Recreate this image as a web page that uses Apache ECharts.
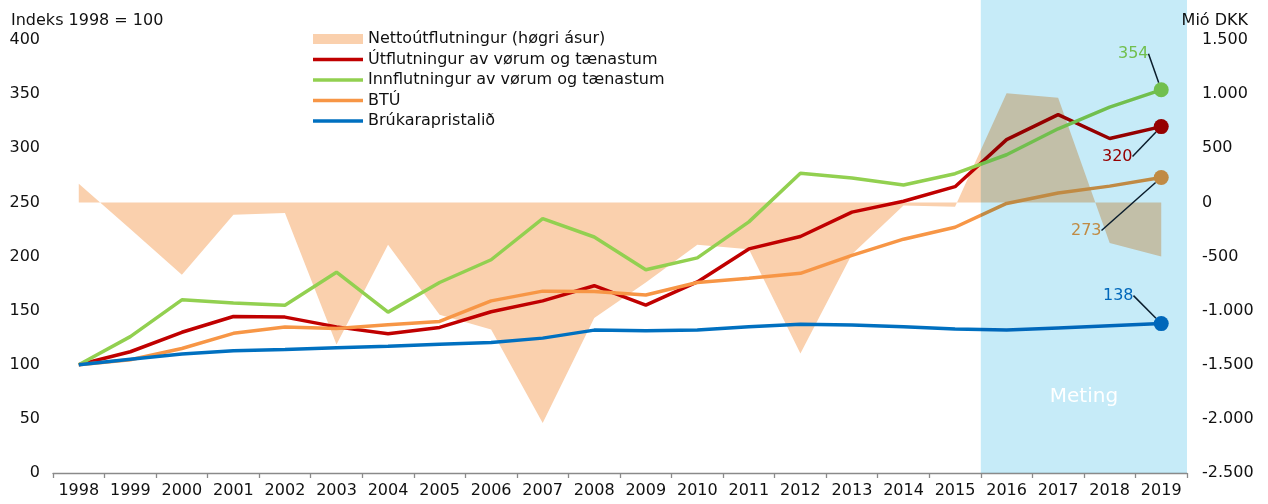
<!DOCTYPE html>
<html>
<head>
<meta charset="utf-8">
<script src="https://cdn.jsdelivr.net/npm/echarts@6/dist/echarts.min.js"></script>
<style>
  html, body { margin: 0; padding: 0; background: #fff; }
  #main { width: 1268px; height: 504px; }
</style>
</head>
<body>
<div id="main"></div>
<script>
// data
var years = ['1998','1999','2000','2001','2002','2003','2004','2005','2006','2007','2008',
             '2009','2010','2011','2012','2013','2014','2015','2016','2017','2018','2019'];
var netto = [172, -245, -668, -114, -98, -1314, -391, -1037, -1175, -2037, -1068,
             -740, -392, -432, -1395, -480, -30, -40, 1009, 966, -375, -500];
var utflutningur = [100, 112, 130, 144.6, 144, 135, 128.6, 134.5, 149, 159, 173,
                    155, 176.5, 207, 218.5, 241, 251, 264.5, 308, 331, 309, 320];
var innflutningur = [100, 126, 160, 157, 155, 185.5, 148.6, 176, 197, 235, 218,
                     187.7, 198.7, 232, 277, 272.5, 266, 276.5, 294, 318, 338, 354];
var btu = [100, 104.6, 115, 129, 134.8, 133.5, 137, 140, 159, 168, 167.7,
           164.5, 176, 180, 184.5, 201, 216, 227, 249, 258.6, 265, 273];
var brukarapristalid = [100, 105, 110, 113, 114, 115.7, 117, 119, 120.6, 124.6, 132,
                        131.5, 132, 135, 137.5, 136.7, 135, 133, 132, 134, 136, 138];
var leftTicks = [0, 400, 50];
var rightTicks = [-2500, 1500, 500];
var forecastFrom = '2016';

var FONT = 'DejaVu Sans';
var LINE_ICON = 'path://M0 0H50V3.6H0Z';
var myChart = echarts.init(document.getElementById('main'));

// the last point gets a dot and a label pulled off to the side
function withEndLabel(values, color) {
    return values.map(function (v, i) {
        if (i < values.length - 1) return v;
        return {
            value: v,
            symbol: 'circle',
            symbolSize: 15,
            itemStyle: { color: color },
            label: {
                show: true,
                position: 'inside',
                formatter: function (p) { return Math.round(p.value); },
                color: color,
                fontFamily: FONT,
                fontSize: 16
            }
        };
    });
}

function lineSeries(name, values, color, dx, dy) {
    return {
        name: name,
        type: 'line',
        yAxisIndex: 0,
        data: withEndLabel(values, color),
        symbol: 'none',
        color: color,
        lineStyle: { width: 3.5, color: color },
        labelLine: { show: true, lineStyle: { color: '#0d1f2d', width: 1.5 } },
        labelLayout: { dx: dx, dy: dy },
        silent: true,
        z: 3
    };
}

function thousands(v) {
    var s = Math.abs(v).toString().replace(/\B(?=(\d{3})+(?!\d))/g, '.');
    return (v < 0 ? '-' : '') + s;
}

var option = {
    animation: false,
    backgroundColor: '#fff',
    textStyle: { fontFamily: FONT },
    title: [
        { text: 'Indeks 1998 = 100', left: 6, top: 8,
          textStyle: { fontFamily: FONT, fontSize: 16, fontWeight: 'normal', color: '#111' } },
        { text: 'Mió DKK', right: 15, top: 8,
          textStyle: { fontFamily: FONT, fontSize: 16, fontWeight: 'normal', color: '#111' } }
    ],
    legend: {
        orient: 'vertical',
        left: 308,
        top: 26,
        itemWidth: 50,
        itemHeight: 10,
        itemGap: 4.5,
        textStyle: { fontFamily: FONT, fontSize: 16, color: '#111', lineHeight: 16 },
        data: [
            { name: 'Nettoútflutningur (høgri ásur)', icon: 'rect', itemStyle: { color: '#fad0ad' } },
            { name: 'Útflutningur av vørum og tænastum', icon: LINE_ICON },
            { name: 'Innflutningur av vørum og tænastum', icon: LINE_ICON },
            { name: 'BTÚ', icon: LINE_ICON },
            { name: 'Brúkarapristalið', icon: LINE_ICON }
        ]
    },
    grid: { left: 53, right: 81, top: 40, bottom: 31 },
    xAxis: {
        type: 'category',
        data: years,
        boundaryGap: true,
        axisLine: { lineStyle: { color: '#8a8a8a', width: 1.3 } },
        axisTick: { show: true, interval: 0, length: 5, lineStyle: { color: '#8a8a8a', width: 1.3 } },
        axisLabel: { interval: 0, margin: 10, fontFamily: FONT, fontSize: 16, color: '#111' }
    },
    yAxis: [
        {
            type: 'value',
            min: leftTicks[0], max: leftTicks[1], interval: leftTicks[2],
            axisLine: { show: false },
            axisTick: { show: false },
            splitLine: { show: false },
            axisLabel: { margin: 13, fontFamily: FONT, fontSize: 16, color: '#111' }
        },
        {
            type: 'value',
            position: 'right',
            min: rightTicks[0], max: rightTicks[1], interval: rightTicks[2],
            axisLine: { show: false },
            axisTick: { show: false },
            splitLine: { show: false },
            axisLabel: { margin: 15, fontFamily: FONT, fontSize: 16, color: '#111',
                         formatter: thousands }
        }
    ],
    series: [
        {
            name: 'Nettoútflutningur (høgri ásur)',
            type: 'line',
            yAxisIndex: 1,
            data: netto,
            symbol: 'none',
            color: '#fad0ad',
            lineStyle: { width: 0 },
            areaStyle: { color: '#fad0ad', opacity: 1 },
            silent: true,
            z: 1
        },
        lineSeries('Útflutningur av vørum og tænastum', utflutningur, '#c00000', -44, 30),
        lineSeries('Innflutningur av vørum og tænastum', innflutningur, '#92d050', -28, -36),
        lineSeries('BTÚ', btu, '#f79646', -75, 53),
        lineSeries('Brúkarapristalið', brukarapristalid, '#0070c0', -43, -28)
    ]
};
myChart.setOption(option);

// forecast band laid over the chart, multiplied so the marks show through
function drawForecastBand() {
    var i = years.indexOf(forecastFrom);
    var a = myChart.convertToPixel({ xAxisIndex: 0 }, years[i - 1]);
    var b = myChart.convertToPixel({ xAxisIndex: 0 }, years[i]);
    var step = b - a;
    var left = (a + b) / 2;
    var right = myChart.convertToPixel({ xAxisIndex: 0 }, years[years.length - 1]) + step / 2;
    var bottom = myChart.convertToPixel({ yAxisIndex: 0 }, leftTicks[0]);
    var labelY = myChart.convertToPixel({ yAxisIndex: 0 }, 70);
    myChart.setOption({
        graphic: [
            {
                type: 'rect',
                z: 50,
                silent: true,
                shape: { x: left, y: 0, width: right - left, height: bottom },
                style: { fill: '#c6ebf8', blend: 'multiply' }
            },
            {
                type: 'text',
                z: 60,
                silent: true,
                x: (left + right) / 2,
                y: labelY,
                style: { text: 'Meting', fill: '#fff', font: '20px "DejaVu Sans"',
                         align: 'center', verticalAlign: 'middle' }
            }
        ]
    });
}
drawForecastBand();
</script>
</body>
</html>
